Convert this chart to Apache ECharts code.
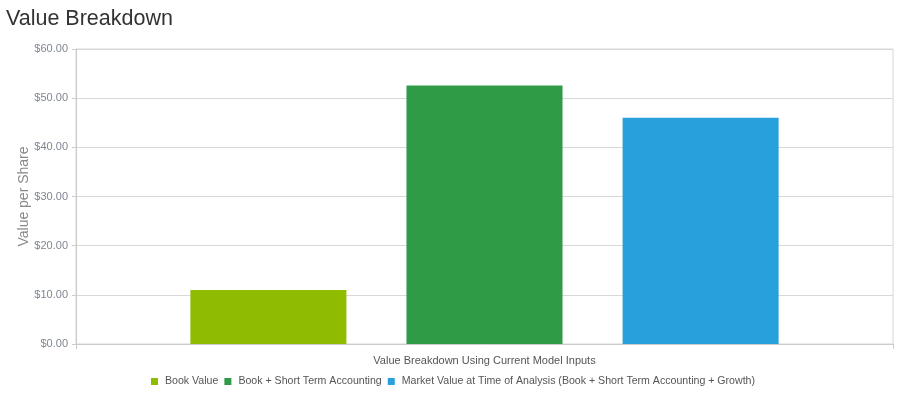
<!DOCTYPE html>
<html>
<head>
<meta charset="utf-8">
<script src="https://cdn.jsdelivr.net/npm/echarts@6/dist/echarts.min.js"></script>
<style>html,body{margin:0;padding:0;background:#fff}#c{width:906px;height:396px}</style>
</head>
<body>
<div id="c"></div>
<script>
const categories = ['Value Breakdown Using Current Model Inputs'];
const seriesNames = ['Book Value', 'Book + Short Term Accounting', 'Market Value at Time of Analysis (Book + Short Term Accounting + Growth)'];
const seriesValues = [11.0, 52.6, 46.0];
const seriesColors = ['#8fbb00', '#309b46', '#27a0db'];
const yTicks = [0, 10, 20, 30, 40, 50, 60];

const chart = echarts.init(document.getElementById('c'), null, {renderer: 'canvas'});
const font = '"Liberation Sans", Arial, sans-serif';
chart.setOption({
  animation: false,
  textStyle: {fontFamily: font},
  title: {
    text: 'Value Breakdown', left: 1, top: 3,
    textStyle: {fontFamily: font, fontSize: 21.5, fontWeight: 'normal', color: '#333'}
  },
  legend: {
    data: seriesNames, bottom: 4, left: 'center',
    icon: 'rect', itemWidth: 7, itemHeight: 7, itemGap: 6,
    textStyle: {fontFamily: font, fontSize: 10.6, color: '#555', padding: [0, 0, 0, 2]}
  },
  grid: {left: 76, right: 13, top: 49, bottom: 52, show: true, borderColor: '#d6d6d6', borderWidth: 1},
  xAxis: {
    type: 'category', data: [''],
    name: categories[0], nameLocation: 'middle', nameGap: 11,
    nameTextStyle: {fontFamily: font, fontSize: 11, color: '#555'},
    axisLine: {lineStyle: {color: '#ccc'}},
    axisTick: {show: true, length: 5, lineStyle: {color: '#ccc'}},
    axisLabel: {show: false}
  },
  yAxis: {
    type: 'value', min: yTicks[0], max: yTicks[yTicks.length - 1], interval: 10,
    name: 'Value per Share', nameLocation: 'middle', nameGap: 45, nameMoveOverlap: false,
    nameTextStyle: {fontFamily: font, fontSize: 14, color: '#888'},
    axisLine: {show: true, lineStyle: {color: '#ccc'}},
    axisTick: {show: true, length: 4, lineStyle: {color: '#ccc'}},
    axisLabel: {fontFamily: font, fontSize: 11, color: '#7f8692', margin: 8,
      formatter: v => '$' + v.toFixed(2)},
    splitLine: {lineStyle: {color: '#d8d8d8'}}
  },
  series: seriesNames.map((n, i) => ({
    name: n, type: 'bar',
    data: [seriesValues[i]],
    itemStyle: {color: seriesColors[i]},
    barGap: '38.5%', barCategoryGap: '28%'
  }))
});
</script>
</body>
</html>
